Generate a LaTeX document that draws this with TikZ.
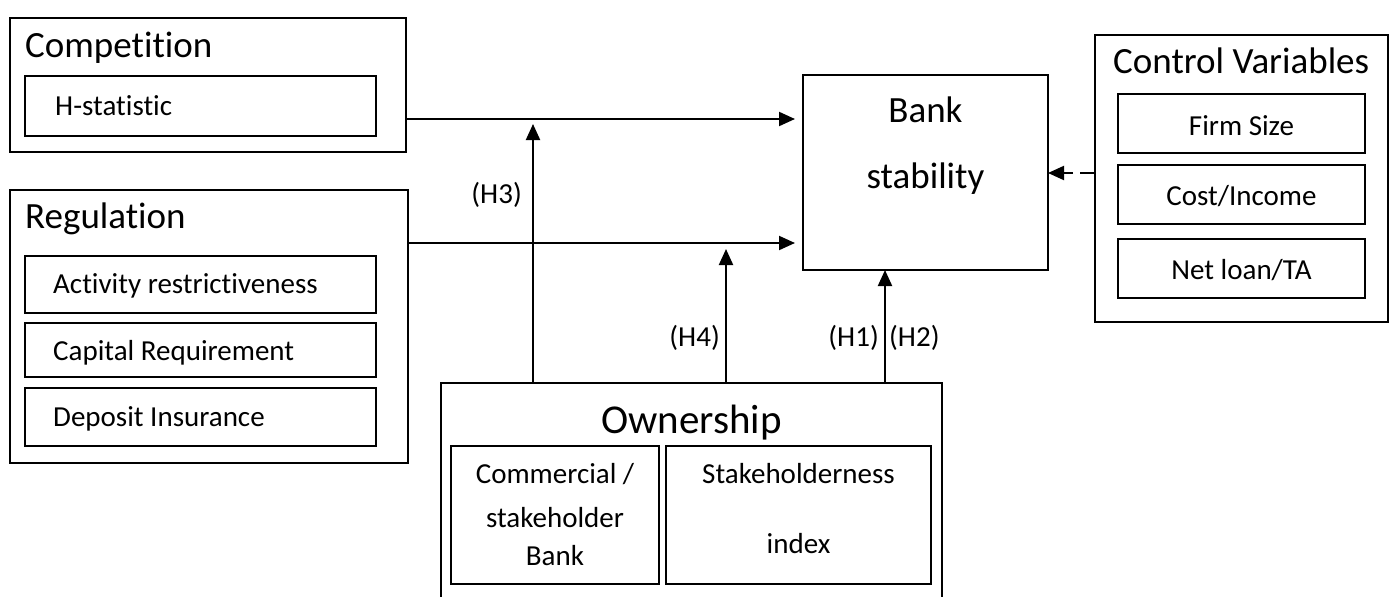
\documentclass[tikz,border=0pt]{standalone}
\usepackage{fontspec}
\setmainfont{Carlito}[Ligatures=NoCommon]
\usetikzlibrary{arrows.meta}
\begin{document}
\begin{tikzpicture}[x=1pt,y=-1pt,
  box/.style={draw, line width=2pt, anchor=north west, inner sep=0pt, outer sep=0pt},
  arr/.style={line width=2pt, -{Triangle[length=16pt,width=14pt]}},
  big/.style={font=\fontsize{37}{44}\selectfont, inner sep=0pt},
  huge/.style={font=\fontsize{41}{48}\selectfont, inner sep=0pt},
  small/.style={font=\fontsize{29}{35}\selectfont, inner sep=0pt}]
\useasboundingbox (0,0) rectangle (1390,597);
% Competition
\node[box, minimum width=396pt, minimum height=134pt] (comp) at (10,18) {};
\node[box, minimum width=351pt, minimum height=60pt] (hstat) at (25,76) {};
\node[big, anchor=base west] (tcomp) at (25,57) {Competition};
\node[small, anchor=base west] (thstat) at (55,115) {H-statistic};
% Regulation
\node[box, minimum width=398pt, minimum height=273pt] (reg) at (10,190) {};
\node[box, minimum width=351pt, minimum height=57pt] (act) at (25,256) {};
\node[box, minimum width=351pt, minimum height=54pt] (cap) at (25,323) {};
\node[box, minimum width=351pt, minimum height=58pt] (dep) at (25,388) {};
\node[big, anchor=base west] (treg) at (25,228) {Regulation};
\node[small, anchor=base west] (tact) at (53,293) {Activity restrictiveness};
\node[small, anchor=base west] (tcap) at (53,360) {Capital Requirement};
\node[small, anchor=base west] (tdep) at (53,426) {Deposit Insurance};
% Bank stability
\node[box, minimum width=245pt, minimum height=195pt] (bank) at (803,75) {};
\node[big, anchor=base] (tbank1) at (925.5,122) {Bank};
\node[big, anchor=base] (tbank2) at (925.5,188) {stability};
% Control variables
\node[box, minimum width=293pt, minimum height=287pt] (ctrl) at (1095,35) {};
\node[box, minimum width=247pt, minimum height=59pt] (firm) at (1118,94) {};
\node[box, minimum width=247pt, minimum height=59pt] (cost) at (1118,165) {};
\node[box, minimum width=247pt, minimum height=59pt] (net) at (1118,239) {};
\node[big, anchor=base west] (tctrl) at (1113,73) {Control Variables};
\node[small, anchor=base] (tfirm) at (1241.5,135) {Firm Size};
\node[small, anchor=base] (tcost) at (1241.5,205) {Cost/Income};
\node[small, anchor=base] (tnet) at (1241.5,279) {Net loan/TA};
% Ownership
\node[box, minimum width=501pt, minimum height=240pt] (own) at (441,383) {};
\node[box, minimum width=208pt, minimum height=138pt] (comm) at (451,446) {};
\node[box, minimum width=265pt, minimum height=138pt] (stake) at (666,446) {};
\node[huge, anchor=base] (town) at (691.5,433) {Ownership};
\node[small, anchor=base] (tcomm1) at (555,483) {Commercial /};
\node[small, anchor=base] (tcomm2) at (555,527) {stakeholder};
\node[small, anchor=base] (tcomm3) at (555,565) {Bank};
\node[small, anchor=base] (tstake1) at (798.5,483) {Stakeholderness};
\node[small, anchor=base] (tstake2) at (798.5,553) {index};
% connectors
\coordinate (y1) at (0,119);
\coordinate (y2) at (0,243);
\coordinate (y3) at (0,173);
\coordinate (h3) at (533,124);
\coordinate (h4) at (726,249);
\coordinate (h12) at (885,0);
\draw[arr, shorten >=8pt] (comp.east |- y1) -- (bank.west |- y1);
\draw[arr, shorten >=8pt] (reg.east |- y2) -- (bank.west |- y2);
\draw[arr] (own.north -| h3) -- (h3);
\draw[arr] (own.north -| h4) -- (h4);
\draw[arr] (own.north -| h12) -- (bank.south -| h12);
\draw[arr, dash pattern=on 15pt off 7pt] (ctrl.west |- y3) -- (bank.east |- y3);
% labels
\node[small, anchor=base east] (lh3) at (522,203) {(H3)};
\node[small, anchor=base east] (lh4) at (720,346) {(H4)};
\node[small, anchor=base east] (lh1) at (879,346) {(H1)};
\node[small, anchor=base west] (lh2) at (889,346) {(H2)};
\end{tikzpicture}
\end{document}
